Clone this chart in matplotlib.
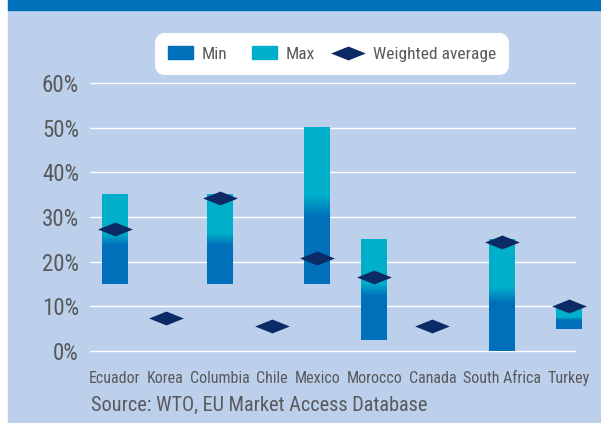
import numpy as np
import matplotlib
matplotlib.use("Agg")
from matplotlib import pyplot as plt
from matplotlib.colors import LinearSegmentedColormap
from matplotlib.patches import Patch, Rectangle
from matplotlib.lines import Line2D
from matplotlib.legend_handler import HandlerBase
from matplotlib.textpath import TextPath
from matplotlib.font_manager import FontProperties

countries = ["Ecuador", "Korea", "Columbia", "Chile", "Mexico",
             "Morocco", "Canada", "South Africa", "Turkey"]
tariff_min = [15, None, 15, None, 15, 2.5, None, 0, 5]
tariff_max = [35, None, 35, None, 50, 25, None, 25, 9.5]
weighted_avg = [27.4, 7.5, 34.2, 5.7, 20.9, 16.5, 5.6, 24.5, 10]
yticks = [0, 10, 20, 30, 40, 50, 60]

BG = "#bcd0ec"
BLUE = "#0070ba"
CYAN = "#00b0ca"
NAVY = "#0b2a66"
GREY = "#58595b"

plt.rcParams["font.family"] = ["Liberation Sans Narrow", "Roboto Condensed", "DejaVu Sans"]

W, H, DPI = 601, 423, 100
fig = plt.figure(figsize=(W / DPI, H / DPI), dpi=DPI, facecolor="white")
fig.patches.append(Rectangle((8 / W, 0), 1, 1, transform=fig.transFigure,
                             color=BG, zorder=-10))
fig.patches.append(Rectangle((8 / W, 1 - 10 / H), 1, 10 / H, transform=fig.transFigure,
                             color=BLUE, zorder=-9))

# axes: x in pixels, y in percent (grid 0..60 from y=351px to y=83px)
ppu = (351 - 83) / 60.0
ax_l, ax_r = 90, 576
ax_b = (H - 351) - ppu
ax_t = (H - 83) + ppu
ax = fig.add_axes([ax_l / W, ax_b / H, (ax_r - ax_l) / W, (ax_t - ax_b) / H])
ax.set_facecolor("none")
for s in ax.spines.values():
    s.set_visible(False)

# category centres follow the label widths
xfont = 11.5
fp = FontProperties(family=plt.rcParams["font.family"], size=xfont)
widths = [TextPath((0, 0), c, prop=fp).get_extents().width * DPI / 72 for c in countries]
first, last = 25, 479
halves = sum((widths[i] + widths[i + 1]) / 2 for i in range(len(widths) - 1))
gap = (last - first - halves) / (len(widths) - 1)
xs = [first]
for i in range(1, len(widths)):
    xs.append(xs[-1] + (widths[i - 1] + widths[i]) / 2 + gap)

for y in yticks:
    ax.axhline(y, color="white", lw=1.0, zorder=1)

cmap = LinearSegmentedColormap.from_list(
    "minmax", [(0, BLUE), (0.43, BLUE), (0.57, CYAN), (1, CYAN)])
grad = np.linspace(0, 1, 200).reshape(-1, 1)
bw = 26
for x, lo, hi in zip(xs, tariff_min, tariff_max):
    if lo is None:
        continue
    im = ax.imshow(grad, extent=[x - bw / 2, x + bw / 2, lo, hi], origin="lower",
                   aspect="auto", cmap=cmap, interpolation="bilinear", zorder=2)
    im.set_clip_on(False)

diamond = [(-1, 0), (0, 0.4), (1, 0), (0, -0.4), (-1, 0)]
ax.plot(xs, weighted_avg, ls="none", marker=diamond, markersize=25,
        color=NAVY, markeredgewidth=0, zorder=3, clip_on=False)

ax.set_xlim(0, ax_r - ax_l)
ax.set_ylim(-1, 61)
ax.set_yticks(yticks)
ax.set_yticklabels([f"{v}%" for v in yticks], fontsize=16.5, color=GREY)
ax.set_xticks(xs)
ax.set_xticklabels(countries, fontsize=xfont, color=GREY)
ax.tick_params(axis="y", length=0, pad=8)
ax.tick_params(axis="x", length=0, pad=11)

fig.text(91 / W, 1 - 405 / H, "Source: WTO, EU Market Access Database",
         fontsize=14.6, color=GREY, va="center", ha="left")


class DiamondHandler(HandlerBase):
    # diamond a little left of the handle centre, so the text gets some air
    def create_artists(self, legend, orig, xdescent, ydescent, width, height,
                       fontsize, trans):
        m = Line2D([width / 2 - xdescent - 2.5], [height / 2 - ydescent], ls="none",
                   marker=diamond, markersize=25, color=NAVY, markeredgewidth=0)
        m.set_transform(trans)
        return [m]


diamond_handle = Line2D([], [], ls="none", label="Weighted average")
handles = [Patch(color=BLUE, label="Min"), Patch(color=CYAN, label="Max"), diamond_handle]
leg = fig.legend(handles=handles, loc="center", bbox_to_anchor=(332 / W, 1 - 54 / H),
                 ncol=3, fontsize=12.5, frameon=True, fancybox=True,
                 handlelength=1.45, handleheight=0.8, handletextpad=0.5,
                 columnspacing=1.4, borderpad=0.75, labelcolor=GREY,
                 handler_map={diamond_handle: DiamondHandler()})
frame = leg.get_frame()
frame.set_facecolor("white")
frame.set_edgecolor("none")
frame.set_alpha(1)
frame.set_boxstyle("round,pad=0,rounding_size=0.6")

fig.savefig("out.png", dpi=DPI, facecolor=fig.get_facecolor())
